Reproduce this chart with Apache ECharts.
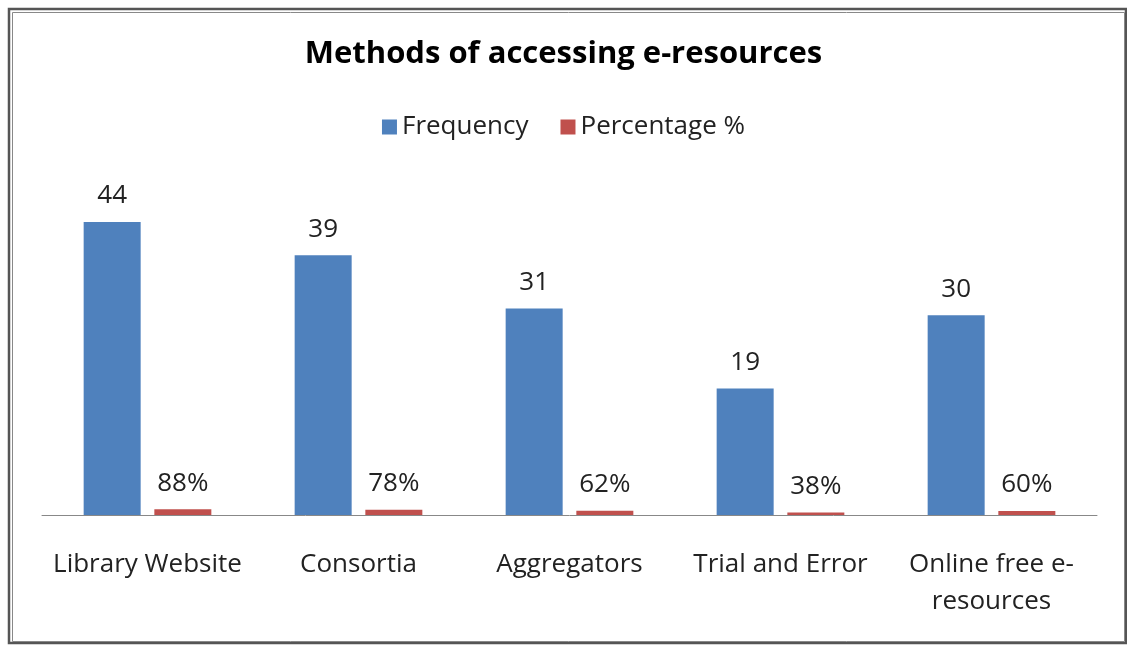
<!DOCTYPE html>
<html><head><meta charset="utf-8">
<script src="https://cdn.jsdelivr.net/npm/echarts@6/dist/echarts.min.js"></script>
<style>html,body{margin:0;padding:0;background:#fff}#c{width:1127px;height:645px}</style>
</head><body><div id="c"></div>
<script>
const categories = ['Library Website', 'Consortia', 'Aggregators', 'Trial and Error', 'Online free e-resources'];
const frequency = [44, 39, 31, 19, 30];
const percentage = [0.88, 0.78, 0.62, 0.38, 0.60];
const titleText = 'Methods of accessing e-resources';
const seriesNames = ['Frequency', 'Percentage %'];

const font = 'Open Sans';
const chart = echarts.init(document.getElementById('c'));
chart.setOption({
  animation: false,
  backgroundColor: '#fff',
  title: {
    text: titleText, left: 'center', top: 34,
    textStyle: { fontFamily: font, fontWeight: 'bold', fontSize: 31, color: '#000' }
  },
  legend: {
    data: seriesNames, left: 'center', top: 109, itemWidth: 15, itemHeight: 15, itemGap: 32,
    icon: 'rect',
    textStyle: { fontFamily: font, fontSize: 26, color: '#222' }
  },
  graphic: [
    { type: 'rect', shape: { x: 9, y: 9, width: 1117, height: 634 }, style: { fill: 'none', stroke: '#555', lineWidth: 2.5 }, silent: true },
    { type: 'rect', shape: { x: 12.5, y: 12.5, width: 1112, height: 629 }, style: { fill: 'none', stroke: '#888', lineWidth: 1 }, silent: true }
  ],
  grid: { left: 42, right: 30, top: 182, bottom: 130 },
  xAxis: {
    type: 'category', data: categories,
    axisLine: { lineStyle: { color: '#888', width: 1 } },
    axisTick: { show: false },
    axisLabel: {
      interval: 0, margin: 31, lineHeight: 37,
      fontFamily: font, fontSize: 26, color: '#222',
      formatter: v => v === 'Online free e-resources' ? 'Online free e-\nresources' : v
    }
  },
  yAxis: { type: 'value', min: 0, max: 50, show: false, splitLine: { show: false } },
  series: [
    {
      name: seriesNames[0], type: 'bar', data: frequency, barWidth: 57, barGap: '24%',
      itemStyle: { color: '#4F81BD' },
      label: { show: true, position: 'top', distance: 13, fontFamily: font, fontSize: 26, color: '#222' }
    },
    {
      name: seriesNames[1], type: 'bar', data: percentage, barWidth: 57,
      itemStyle: { color: '#C0504D' },
      label: { show: true, position: 'top', distance: 13, fontFamily: font, fontSize: 26, color: '#222',
        formatter: p => Math.round(p.value * 100) + '%' }
    }
  ]
});
</script></body></html>
